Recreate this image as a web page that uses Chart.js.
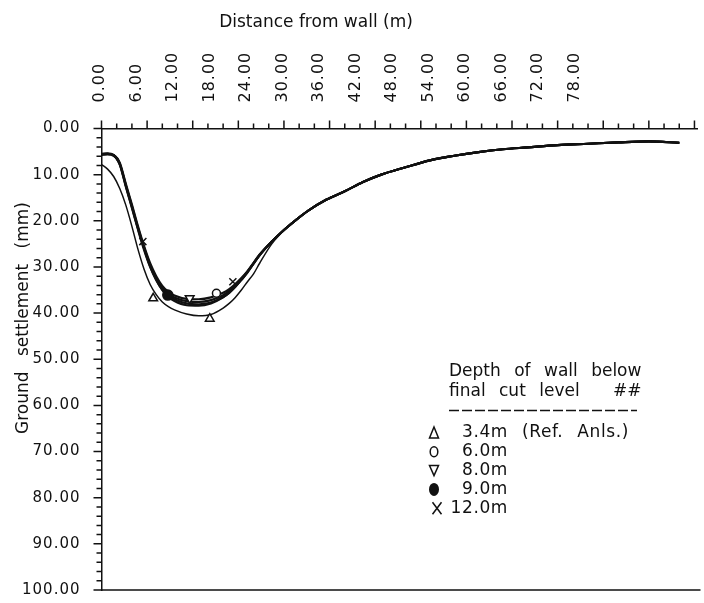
<!DOCTYPE html>
<html>
<head>
<meta charset="utf-8">
<script src="https://cdn.jsdelivr.net/npm/chart.js@4.4.1/dist/chart.umd.min.js"></script>
<style>
  html, body { margin: 0; padding: 0; background: #fff; }
  canvas { display: block; }
</style>
</head>
<body>
<canvas id="chart" width="704" height="603"></canvas>
<script>
// distance from wall (m) where the settlement curves are read
const distance = [0, 1, 2, 3, 4, 5, 6, 7, 8, 9, 10, 11, 12, 14, 16, 18, 20, 21, 22, 23, 24, 25, 26, 28,
  30, 32, 34, 37, 40, 43, 46, 50, 54, 58, 62, 66, 70, 75, 80, 85, 90, 95];

// ground settlement (mm) for each depth of wall below final cut level
const wall34 = [7.8, 8.8, 10.4, 13.0, 16.6, 21.2, 26.2, 30.5, 33.8, 36.0, 37.6, 38.6, 39.3, 40.2, 40.6, 40.3, 38.9, 37.9, 36.6, 35.0, 33.2, 31.5, 29.2, 25.0,
  22.1, 19.8, 17.8, 15.4, 13.6, 11.6, 10.0, 8.4, 6.9, 5.9, 5.1, 4.5, 4.1, 3.6, 3.3, 3.0, 2.8, 3.1];
const wall60 = [5.5, 5.4, 5.7, 7.4, 12.0, 16.5, 21.2, 25.5, 29.2, 32.0, 34.1, 35.4, 36.2, 36.9, 37.0, 36.6, 35.6, 34.8, 33.7, 32.4, 30.9, 29.1, 27.3, 24.5,
  22.0, 19.8, 17.8, 15.4, 13.6, 11.6, 10.0, 8.4, 6.9, 5.9, 5.1, 4.5, 4.1, 3.6, 3.3, 3.0, 2.8, 3.1];
const wall80 = [5.7, 5.6, 5.9, 7.8, 12.6, 17.2, 21.9, 26.3, 30.0, 32.8, 34.9, 36.2, 37.0, 37.9, 38.1, 37.7, 36.5, 35.6, 34.3, 32.8, 31.2, 29.3, 27.5, 24.5,
  22.0, 19.8, 17.8, 15.4, 13.6, 11.6, 10.0, 8.4, 6.9, 5.9, 5.1, 4.5, 4.1, 3.6, 3.3, 3.0, 2.8, 3.1];
const wall90 = [5.6, 5.5, 5.8, 7.6, 12.3, 16.8, 21.5, 25.8, 29.6, 32.4, 34.5, 35.8, 36.6, 37.4, 37.6, 37.2, 36.1, 35.2, 34.0, 32.6, 31.0, 29.2, 27.4, 24.5,
  22.0, 19.8, 17.8, 15.4, 13.6, 11.6, 10.0, 8.4, 6.9, 5.9, 5.1, 4.5, 4.1, 3.6, 3.3, 3.0, 2.8, 3.1];
const wall120 = [5.6, 5.5, 5.8, 7.7, 12.4, 17.0, 21.7, 26.0, 29.9, 32.8, 35.0, 36.5, 37.4, 38.3, 38.4, 37.9, 36.6, 35.6, 34.3, 32.8, 31.1, 29.3, 27.4, 24.5,
  22.0, 19.8, 17.8, 15.4, 13.6, 11.6, 10.0, 8.4, 6.9, 5.9, 5.1, 4.5, 4.1, 3.6, 3.3, 3.0, 2.8, 3.1];

// plotted symbols (distance m, settlement mm)
const mark34X = [8.5, 17.8], mark34Y = [36.8, 41.2];
const mark60X = [18.9], mark60Y = [35.7];
const mark80X = [14.5], mark80Y = [36.8];
const mark90X = [10.9], mark90Y = [36.1];
const mark120X = [6.8, 21.6], mark120Y = [24.5, 33.2];

const depths = ['3.4m (Ref. Anls.)', '6.0m', '8.0m', '9.0m', '12.0m'];
const xTicks = [0, 6, 12, 18, 24, 30, 36, 42, 48, 54, 60, 66, 72, 78];
const yTicks = [0, 10, 20, 30, 40, 50, 60, 70, 80, 90, 100];

const ink = '#111';
const font = '"DejaVu Sans", sans-serif';

function curve(values, width) {
  return {
    data: distance.map((d, i) => ({ x: d, y: values[i] })),
    showLine: true, borderColor: ink, borderWidth: width,
    pointRadius: 0, cubicInterpolationMode: 'monotone'
  };
}

function marks(xs, ys, style, r, fillColor, rotation) {
  return {
    data: xs.map((v, i) => ({ x: v, y: ys[i] })),
    showLine: false, pointStyle: style, pointRadius: r, pointRotation: rotation || 0,
    pointBorderColor: ink, pointBackgroundColor: fillColor, pointBorderWidth: 1.5
  };
}

// legend symbols, drawn by hand like the plotter did
function symbol(ctx, kind, cx, cy) {
  ctx.beginPath();
  if (kind === 0) {
    ctx.moveTo(cx, cy - 6); ctx.lineTo(cx + 4.5, cy + 5); ctx.lineTo(cx - 4.5, cy + 5); ctx.closePath(); ctx.stroke();
  } else if (kind === 1) {
    ctx.ellipse(cx, cy, 3.8, 5, 0, 0, Math.PI * 2); ctx.stroke();
  } else if (kind === 2) {
    ctx.moveTo(cx - 4.5, cy - 5); ctx.lineTo(cx + 4.5, cy - 5); ctx.lineTo(cx, cy + 5); ctx.closePath(); ctx.stroke();
  } else if (kind === 3) {
    ctx.ellipse(cx, cy, 5, 6.5, 0, 0, Math.PI * 2); ctx.fill();
  } else {
    ctx.moveTo(cx - 4.5, cy - 6); ctx.lineTo(cx + 4.5, cy + 6);
    ctx.moveTo(cx + 4.5, cy - 6); ctx.lineTo(cx - 4.5, cy + 6); ctx.stroke();
  }
}

const paperPlugin = {
  id: 'paper',
  beforeDraw(chart) {
    // the old plotter lettering is spaced out a little
    chart.ctx.letterSpacing = '1px';
  },
  beforeDatasetsDraw(chart) {
    chart.ctx.letterSpacing = '0px';
  },
  afterDraw(chart) {
    const { ctx, chartArea: a, scales: { x, y } } = chart;
    ctx.save();
    ctx.strokeStyle = ink;
    ctx.fillStyle = ink;
    ctx.lineWidth = 1.5;

    ctx.beginPath();
    ctx.moveTo(a.left, a.bottom); ctx.lineTo(a.right + 3, a.bottom);
    // top axis marks every 2.5 m, longer every 7.5 m
    for (let i = 0; i <= 39; i++) {
      const px = x.getPixelForValue(i * 2.5);
      ctx.moveTo(px, a.top); ctx.lineTo(px, a.top - (i % 3 ? 5 : 8));
    }
    // left axis marks every 2 mm
    for (let i = 0; i <= 50; i++) {
      const py = y.getPixelForValue(i * 2);
      ctx.moveTo(a.left, py); ctx.lineTo(a.left - (i % 5 ? 5 : 8), py);
    }
    ctx.stroke();

    // axis titles
    ctx.textBaseline = 'middle';
    ctx.textAlign = 'center';
    ctx.font = '17px ' + font;
    ctx.fillText('Distance from wall (m)', 316, 23);
    ctx.save();
    ctx.translate(24, 318);
    ctx.rotate(-Math.PI / 2);
    ctx.wordSpacing = '10px';
    ctx.fillText('Ground settlement (mm)', 0, 0);
    ctx.restore();

    // legend block
    ctx.textAlign = 'left';
    ctx.wordSpacing = '8px';
    ctx.fillText('Depth of wall below', 449, 372);
    ctx.fillText('final cut level', 449, 392);
    ctx.fillText('##', 613, 392);
    ctx.save();
    ctx.setLineDash([10, 3]);
    ctx.beginPath();
    ctx.moveTo(449, 410.5); ctx.lineTo(637, 410.5);
    ctx.stroke();
    ctx.restore();
    ctx.letterSpacing = '0.6px';
    depths.forEach((label, i) => {
      const rowY = 433 + i * 18.8;
      const lead = ctx.measureText(label.split(' ')[0]).width;
      ctx.fillText(label, 508 - lead, rowY);
      symbol(ctx, i, i === 4 ? 437 : 434, rowY);
    });
    ctx.restore();
  }
};

new Chart(document.getElementById('chart'), {
  type: 'scatter',
  data: {
    datasets: [
      marks(mark34X, mark34Y, 'triangle', 5, '#fff'),
      marks(mark60X, mark60Y, 'circle', 4, '#fff'),
      marks(mark80X, mark80Y, 'triangle', 5, '#fff', 180),
      marks(mark90X, mark90Y, 'circle', 5, ink),
      marks(mark120X, mark120Y, 'crossRot', 5, ink),
      curve(wall34, 1.5),
      curve(wall60, 2.2),
      curve(wall80, 2.2),
      curve(wall90, 2.2),
      curve(wall120, 2.2)
    ]
  },
  options: {
    responsive: false,
    animation: false,
    layout: { padding: { left: 0, right: 4, top: 0, bottom: 13 } },
    plugins: { legend: { display: false }, tooltip: { enabled: false } },
    scales: {
      x: {
        type: 'linear', position: 'top', min: 0, max: 98,
        afterFit: s => { s.height = 128.5; },
        afterBuildTicks: s => { s.ticks = xTicks.map(v => ({ value: v })); },
        grid: { drawOnChartArea: false, drawTicks: true, tickLength: 26, tickColor: 'transparent' },
        border: { color: ink, width: 1.5 },
        ticks: {
          autoSkip: false, minRotation: 90, maxRotation: 90, padding: 0, labelOffset: 18,
          color: ink, font: { family: font, size: 16 },
          callback: v => v.toFixed(2)
        }
      },
      y: {
        type: 'linear', reverse: true, min: 0, max: 100,
        afterFit: s => { s.width = 101.5; },
        afterBuildTicks: s => { s.ticks = yTicks.map(v => ({ value: v })); },
        grid: { drawOnChartArea: false, drawTicks: true, tickLength: 21, tickColor: 'transparent' },
        border: { color: ink, width: 1.5 },
        ticks: {
          padding: 0, color: ink, font: { family: font, size: 15 },
          callback: v => v.toFixed(2)
        }
      }
    }
  },
  plugins: [paperPlugin]
});
</script>
</body>
</html>
